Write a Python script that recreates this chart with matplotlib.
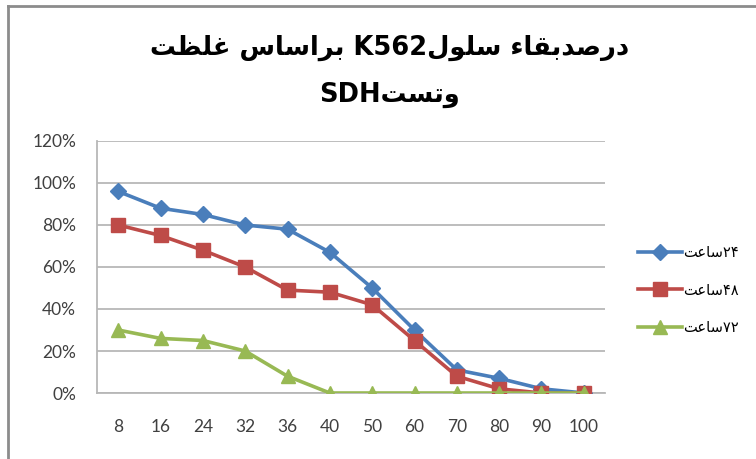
import matplotlib
matplotlib.use("Agg")
import matplotlib.pyplot as plt
from matplotlib.lines import Line2D
from matplotlib.ticker import PercentFormatter

# ---------------- data ----------------
categories = ["8", "16", "24", "32", "36", "40", "50", "60", "70", "80", "90", "100"]
h24 = [96, 88, 85, 80, 78, 67, 50, 30, 11, 7, 2, 0]
h48 = [80, 75, 68, 60, 49, 48, 42, 25, 8, 2, 0, 0]
h72 = [30, 26, 25, 20, 8, 0, 0, 0, 0, 0, 0, 0]
series_labels = ["۲۴ساعت", "۴۸ساعت", "۷۲ساعت"]
title_text = "درصدبقاء سلولK562 براساس غلظت وتستSDH"
y_ticks = [0, 20, 40, 60, 80, 100, 120]

# ---------------- minimal Arabic shaping ----------------
FORMS = {  # iso, fin, ini, med
    "ا": ("\uFE8D", "\uFE8E", None, None),
    "ب": ("\uFE8F", "\uFE90", "\uFE91", "\uFE92"),
    "ت": ("\uFE95", "\uFE96", "\uFE97", "\uFE98"),
    "د": ("\uFEA9", "\uFEAA", None, None),
    "ر": ("\uFEAD", "\uFEAE", None, None),
    "س": ("\uFEB1", "\uFEB2", "\uFEB3", "\uFEB4"),
    "ص": ("\uFEB9", "\uFEBA", "\uFEBB", "\uFEBC"),
    "ظ": ("\uFEC5", "\uFEC6", "\uFEC7", "\uFEC8"),
    "ع": ("\uFEC9", "\uFECA", "\uFECB", "\uFECC"),
    "غ": ("\uFECD", "\uFECE", "\uFECF", "\uFED0"),
    "ق": ("\uFED5", "\uFED6", "\uFED7", "\uFED8"),
    "ل": ("\uFEDD", "\uFEDE", "\uFEDF", "\uFEE0"),
    "و": ("\uFEED", "\uFEEE", None, None),
    "ء": ("\uFE80", None, None, None),
}


def is_ar(c):
    return c in FORMS


def shape_word(w):
    out = []
    for i, c in enumerate(w):
        if c not in FORMS:
            out.append(c)
            continue
        iso, fin, ini, med = FORMS[c]
        prev = w[i - 1] if i > 0 else None
        nxt = w[i + 1] if i + 1 < len(w) else None
        joins_prev = prev is not None and is_ar(prev) and FORMS[prev][2] is not None and fin is not None
        joins_next = nxt is not None and is_ar(nxt) and ini is not None and FORMS[nxt][1] is not None
        if joins_prev and joins_next:
            out.append(med)
        elif joins_prev:
            out.append(fin)
        elif joins_next:
            out.append(ini)
        else:
            out.append(iso)
    return "".join(out)


def visual_rtl(s):
    """Visual order for an RTL paragraph with embedded LTR runs."""
    runs = []
    cur = ""
    cur_ltr = None
    for c in s:
        ltr = (c.isascii() and c != " ") or c in "۰۱۲۳۴۵۶۷۸۹"
        if c == " ":
            ltr = False
        if cur_ltr is None or ltr == cur_ltr:
            cur += c
            cur_ltr = ltr
        else:
            runs.append((cur, cur_ltr))
            cur, cur_ltr = c, ltr
    if cur:
        runs.append((cur, cur_ltr))
    pieces = []
    for text, ltr in runs:
        if ltr:
            pieces.append(text)
        else:
            pieces.append(shape_word(text)[::-1])
    return "".join(pieces[::-1])


line1 = visual_rtl(title_text.split(" وتست")[0])
line2 = visual_rtl("وتست" + title_text.split(" وتست")[1])
legend_labels = [visual_rtl(s) for s in series_labels]

# ---------------- figure ----------------
fig = plt.figure(figsize=(7.56, 4.59), dpi=100)
ax = fig.add_axes([97 / 756, 1 - 393 / 459, (605 - 97) / 756, (393 - 141) / 459])

x = list(range(len(categories)))
c_blue, c_red, c_green = "#4A7EBB", "#BE4B48", "#98B954"
ax.plot(x, h24, color=c_blue, lw=2.6, marker="D", ms=8.5, mec=c_blue, mfc=c_blue, label=legend_labels[0], zorder=3)
ax.plot(x, h48, color=c_red, lw=2.6, marker="s", ms=10, mec=c_red, mfc=c_red, label=legend_labels[1], zorder=4)
ax.plot(x, h72, color=c_green, lw=2.6, marker="^", ms=10.5, mec=c_green, mfc=c_green, label=legend_labels[2], zorder=5)

ax.set_xlim(-0.5, len(categories) - 0.5)
ax.set_ylim(0, 120)
ax.set_yticks(y_ticks)
ax.yaxis.set_major_formatter(PercentFormatter(decimals=0))
ax.set_xticks(x)
ax.set_xticklabels(categories)
ax.grid(axis="y", color="#B7B7B7", lw=1.3)
ax.set_axisbelow(True)
for s in ["top", "right"]:
    ax.spines[s].set_visible(False)
for s in ["left", "bottom"]:
    ax.spines[s].set_color("#B7B7B7")
    ax.spines[s].set_linewidth(1.3)
ax.tick_params(axis="both", length=0, labelsize=12.5, labelcolor="#404040")
ax.tick_params(axis="y", pad=15)
ax.tick_params(axis="x", pad=19)
for lab in ax.get_xticklabels() + ax.get_yticklabels():
    lab.set_family(["Lato", "DejaVu Sans"])

fig.text(0.515, 1 - 48 / 459, line1, ha="center", va="center", fontsize=18.5,
         fontweight="bold", family=["DejaVu Sans"])
fig.text(0.515, 1 - 95 / 459, line2, ha="center", va="center", fontsize=18.5,
         fontweight="bold", family=["DejaVu Sans"])

leg = ax.legend(loc="center left", bbox_to_anchor=(625 / 756, 1 - 290 / 459),
                bbox_transform=fig.transFigure, frameon=False, handlelength=3.0,
                handletextpad=0.1, labelspacing=1.55, prop={"family": ["DejaVu Sans"], "size": 10.5})

# figure border (top and left)
fig.add_artist(Line2D([8 / 756, 1], [1 - 6 / 459, 1 - 6 / 459], color="#8C8C8C", lw=2, transform=fig.transFigure))
fig.add_artist(Line2D([8 / 756, 8 / 756], [0, 1 - 6 / 459], color="#8C8C8C", lw=2, transform=fig.transFigure))

fig.savefig("out.png", dpi=100)
